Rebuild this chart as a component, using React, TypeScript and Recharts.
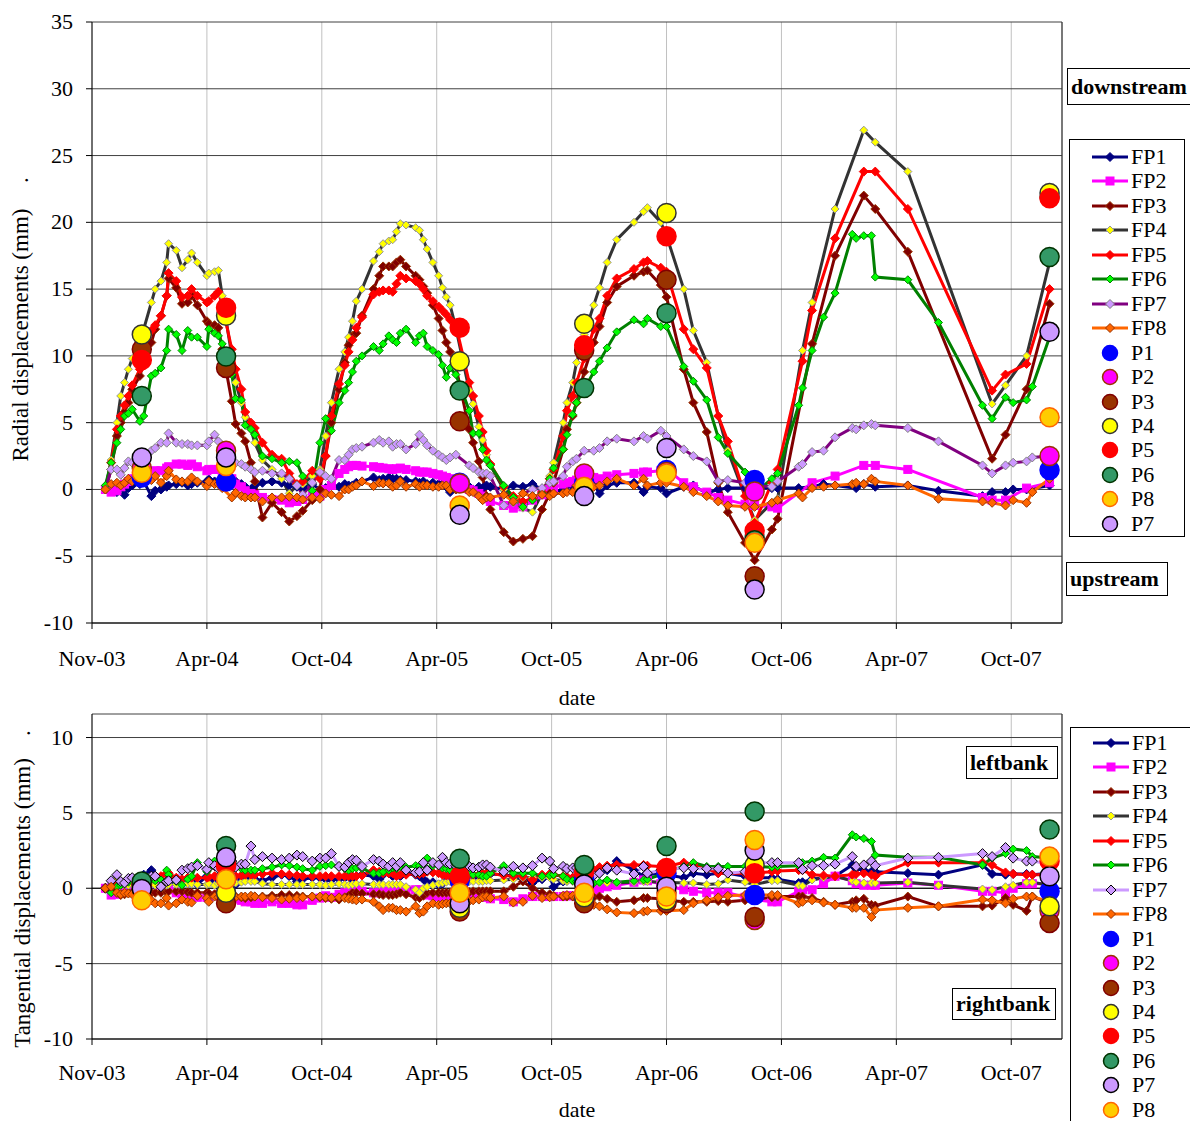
import React from 'react';
import { ComposedChart, Line, Scatter, XAxis, YAxis, CartesianGrid, ReferenceLine } from 'recharts';

const FONT = '"Liberation Serif", "Times New Roman", serif';

// time axis: 0 = Nov-03 tick, one tick every 6 units (Excel date axis)
const X_TICKS = [0, 6, 12, 18, 24, 30, 36, 42, 48];
const X_LABELS = ['Nov-03', 'Apr-04', 'Oct-04', 'Apr-05', 'Oct-05', 'Apr-06', 'Oct-06', 'Apr-07', 'Oct-07'];
const X_MAX = 50.65;

// reading dates of the FP pendulums
const DATES = [
  0.7, 1.0, 1.3, 1.5, 1.7, 1.9, 2.1, 2.5, 2.7, 3.1, 3.3, 3.6, 3.9, 4.0, 4.4, 4.7, 5.0, 5.2, 5.5, 6.0,
  6.1, 6.4, 6.6, 6.8, 7.3, 7.5, 7.8, 8.0, 8.3, 8.5, 8.9, 9.4, 9.9, 10.3, 10.7, 11.0, 11.5,
  11.9, 12.2, 12.5, 12.9, 13.2, 13.4, 13.6, 13.8, 14.1, 14.7, 15.0, 15.2, 15.5, 15.7, 15.9, 16.1, 16.4, 16.9, 17.1, 17.3,
  17.5, 17.8, 18.1, 18.3, 18.5, 18.7, 19.0, 19.7, 19.9, 20.2, 20.4, 20.6, 20.8, 21.5, 22.0, 22.5, 23.0, 23.5, 23.9,
  24.1, 24.6, 24.8, 25.1, 25.3, 25.7, 26.2, 26.5, 26.9, 27.4, 28.3, 28.8, 29.0, 29.7, 30.0, 30.9, 31.4, 32.1, 32.7, 33.2,
  34.1, 34.6, 35.5, 35.8,
  36.9, 37.1, 37.6, 38.2, 38.8, 39.7, 39.9, 40.3, 40.7, 40.9, 42.6, 44.2, 46.5, 47.0, 47.7, 48.1, 48.8, 49.1, 50.0,
];

// dates of the P (plumb line) readings
const P_DATES = [2.6, 7.0, 19.2, 25.7, 30.0, 34.6, 50.0];

// ---- radial displacements (mm) ----
const R_FP1 = [
  0, 0.1, -0.2, 0.2, -0.4, 0.1, 0.3, 0.4, 0.6, -0.5, -0.1, 0.0, 0.2, 0.3, 0.4, 0.5, 0.3, 0.4, 0.5, 0.6,
  0.75, 0.6, 0.5, 0.3, 0.4, 0.6, 0.4, 0.2, 0.0, 0.3, 0.5, 0.6, 0.5, 0.3, 0.2, 0.1, 0.4,
  0.0, 0.1, 0.3, 0.2, 0.4, 0.3, 0.3, 0.5, 0.6, 0.9, 0.7, 0.8, 0.9, 0.8, 0.8, 0.7, 0.7, 0.6, 0.5, 0.6,
  0.4, 0.5, 0.4, 0.4, 0.2, -0.2, 0.0, 0.2, 0.0, 0.2, 0.1, 0.3, 0.2, 0.0, 0.3, 0.2, 0.4, 0.0, -0.3,
  -0.3, 0.0, 0.3, 0.2, 0.4, 0.6, 0.4, -0.3, 0.3, 0.5, 0.5, -0.2, 0.2, 0.1, -0.3, 0.2, 0.3, -0.3, 0.0, 0.1,
  0.1, 0.1, 0.1, 0.1,
  0.1, null, 0.2, 0.4, 0.3, null, 0.1, 0.4, null, 0.2, 0.3, -0.1, -0.5, -0.2, -0.2, 0.0, 0.0, null, 0.3,
];
const R_FP2 = [
  0, -0.2, -0.1, 0.2, 0.4, 0.6, 0.8, 1.0, 1.1, 1.3, 1.4, 1.4, 1.6, 1.7, 1.9, 1.9, 1.8, 1.9, 1.7, 1.4,
  1.5, 1.5, 1.5, 1.3, 0.8, 0.4, 0.2, -0.1, -0.3, -0.4, -0.6, -0.75, -0.8, -1.0, -0.9, -0.75, -0.5,
  -0.5, 0.0, 0.3, 1.2, 1.5, 1.7, 1.8, 1.8, 1.75, 1.7, 1.65, 1.6, 1.55, 1.5, 1.55, 1.6, 1.5, 1.4, 1.3, 1.3,
  1.3, 1.2, 1.1, 1.0, 0.9, 0.8, 0.6, 0.0, -0.1, -0.3, -0.5, -0.7, -0.9, -1.2, -1.4, -1.3, -0.8, -0.4, 0.0,
  0.1, 0.4, 0.5, 0.6, 0.7, 1.0, 0.9, 0.8, 1.0, 1.1, 1.2, 1.3, 1.3, 1.4, 1.5, 0.5, 0.2, -0.2, -0.6, -0.8,
  -1.1, -1.2, -1.3, -1.4,
  null, null, 0.5, null, 1.0, null, null, 1.8, null, 1.8, 1.5, null, -0.6, -0.8, -0.8, null, 0.1, null, 0.5,
];
const R_FP3 = [
  0, 1.5, 4.0, 5.0, 5.8, 6.5, 7.5, 8.5, 9.5, 11.0, 12.0, 13.0, 14.5, 15.8, 15.1, 13.9, 14.0, 14.5, 13.8, 12.6,
  12.4, 12.3, 12.1, 10.5, 6.6, 4.9, 4.2, 3.6, 2.0, 0.6, -2.1, -1.0, -1.7, -2.4, -2.0, -1.6, -0.8,
  0.0, 2.5, 5.0, 7.5, 9.5, 10.8, 11.5, 11.7, 13.0, 15.0, 16.0, 16.7, 16.7, 16.7, 17.0, 17.2, 16.7, 16.0, 15.7, 15.2,
  14.7, 13.8, 12.8, 11.9, 11.0, 10.3, 9.2, 4.5, 3.5, 2.1, 0.9, -0.5, -1.5, -3.2, -3.9, -3.7, -3.5, -1.5, -0.3,
  0.5, 3.0, 4.5, 5.5, 6.5, 8.8, 11.0, 12.2, 14.0, 15.2, 16.0, 16.3, 16.4, 15.3, 14.4, 9.0, 6.5, 4.3, 0.5, -1.7,
  -4.0, -5.3, -3.0, -2.2,
  null, null, 10.9, null, 17.5, null, null, 22.0, null, 21.0, 17.8, null, null, 2.3, 4.1, null, 7.5, null, 13.9,
];
const R_FP4 = [
  0, 2.2, 5.0, 7.0, 8.0, 9.0, 9.8, 11.0, 12.0, 14.0, 15.0, 15.6, 17.0, 18.4, 17.9, 16.6, 17.2, 17.7, 17.0, 16.0,
  16.2, 16.3, 16.4, 14.5, 10.0, 8.0, 6.5, 5.4, 4.5, 3.5, 2.2, 1.5, 0.8, -0.3, 0.3, 0.4, 1.0,
  1.5, 4.0, 6.5, 9.0, 10.3, 11.4, 12.6, 14.1, 15.0, 17.1, 17.8, 18.4, 18.6, 18.7, 19.3, 19.9, 19.8, 19.6, 19.4, 18.7,
  18.0, 17.0, 16.0, 15.1, 14.4, 13.8, 12.1, 7.4, 6.4, 4.7, 3.7, 2.6, 1.8, 0.0, -1.0, -1.4, -1.7, -0.3, 1.0,
  2.0, 5.0, 6.5, 8.0, 9.5, 11.6, 13.8, 15.1, 17.0, 18.7, 20.0, 20.8, 21.1, 20.0, 19.0, 15.0, 11.9, 9.5, 5.5, 2.9,
  -0.5, -2.3, -1.0, -0.7,
  null, 10.4, 14.0, null, 21.0, null, null, 26.9, null, 26.0, 23.8, null, null, 6.4, 7.8, null, 10.0, null, 17.0,
];
const R_FP5 = [
  0, 2.0, 4.5, 5.5, 6.3, 7.0, 7.8, 9.0, 10.0, 11.9, 12.3, 13.0, 14.5, 16.2, 15.6, 14.4, 14.5, 15.0, 14.5, 14.0,
  14.1, 14.5, 14.8, 13.8, 10.5, 9.0, 7.5, 5.8, 5.0, 4.6, 3.5, 2.6, 2.3, 1.2, 0.4, 0.6, 1.4,
  0.8, 2.5, 5.5, 7.9, 9.3, 10.3, 11.2, 12.1, 12.9, 14.6, 14.8, 14.9, 14.9, 14.8, 15.4, 16.0, 15.8, 15.6, 15.4, 15.0,
  14.5, 14.1, 13.7, 13.4, 13.1, 12.7, 12.3, 8.0, 7.0, 5.5, 4.3, 2.9, 1.9, 0.2, -0.5, -0.9, -0.7, -0.2, 0.8,
  1.5, 4.0, 5.9, 7.0, 8.0, 9.8, 12.0, 12.8, 14.5, 15.8, 16.5, 17.0, 17.1, 16.6, 16.3, 12.0, 10.5, 9.1, 5.5, 3.6,
  -0.5, -2.5, 0.5, 1.5,
  null, 9.6, 13.4, null, 18.8, null, null, 23.8, null, 23.8, 21.0, null, null, 7.4, 8.6, null, 9.4, null, 15.0,
];
const R_FP6 = [
  0.3, 2.0, 3.5, 4.5, 5.5, 5.7, 6.0, 5.1, 5.5, 8.5, 8.7, 9.1, 10.4, 12.0, 11.6, 10.4, 11.9, 11.4, 11.4, 10.7,
  12.0, 11.7, 11.5, 10.9, 8.6, 6.8, 6.7, 4.8, 4.5, 4.1, 2.5, 2.3, 2.0, 2.1, 2.0, 1.0, -0.1,
  3.5, 5.3, 4.4, 6.5, 7.4, 8.0, 8.8, 9.6, 10.0, 10.7, 10.4, 10.9, 11.5, 11.2, 11.0, 11.7, 12.0, 11.0, 11.5, 11.7,
  10.7, 10.4, 10.1, 9.3, 8.4, 9.1, 8.6, 5.9, 4.2, 4.2, 3.0, 2.2, 1.8, 0.3, -0.6, -1.3, -0.8, -0.3, 0.8,
  1.6, 3.0, 4.1, 5.6, 6.5, 7.5, 8.8, 9.6, 10.6, 11.8, 12.7, 12.4, 12.8, 12.2, 12.2, 9.2, 8.1, 6.7, 3.9, 2.7,
  1.3, -0.3, 0.8, 1.2,
  6.3, 7.6, 10.4, 12.9, 14.7, 19.1, 18.8, 19.0, 19.0, 15.9, 15.7, 12.5, 6.3, 5.3, 6.9, 6.5, 6.7, 7.7, 11.4,
];
const R_FP7 = [
  0, 1.5, 1.5, 1.1, 1.6, 2.1, 2.0, 2.2, 2.5, 2.9, 3.1, 3.5, 3.5, 4.2, 3.5, 3.4, 3.4, 3.3, 3.3, 3.3,
  3.6, 4.1, 3.6, 2.8, 2.2, 2.0, 1.9, 1.7, 1.5, 1.3, 1.4, 1.2, 1.2, 0.8, 0.3, -0.4, 0.5,
  1.3, 1.0, 0.8, 2.2, 2.2, 2.6, 3.0, 3.1, 3.2, 3.5, 3.7, 3.5, 3.6, 3.2, 3.4, 3.4, 3.0, 3.4, 4.1, 3.7,
  3.3, 2.9, 2.6, 2.4, 2.2, 2.4, 2.6, 1.8, 1.6, 1.3, 1.2, 1.2, 1.0, -1.2, -0.9, -0.3, 0.0, 0.1, 0.5,
  0.6, 1.0, 1.7, 2.1, 2.3, 2.9, 2.9, 3.1, 3.6, 3.8, 3.6, 4.0, 3.8, 4.4, 4.0, 3.0, 2.5, 2.1, 0.6, 0.7,
  0.5, 0.3, 0.2, 0.6,
  1.7, 1.9, 2.8, 2.9, 3.9, 4.6, 4.5, 4.8, 4.9, 4.8, 4.6, 3.6, 1.8, 1.2, 1.8, 2.0, 2.1, 2.4, 2.5,
];
const R_FP8 = [
  0, 0.4, 0.5, 0.3, 0.5, 0.8, 0.6, 0.7, 0.6, 0.7, 1.0, 0.5, 1.0, 1.4, 0.75, 0.6, 0.6, 0.9, 0.6, 0.25,
  0.6, 0.4, 0.4, 0.1, -0.6, -0.25, -0.5, -0.6, -0.6, -0.6, -0.9, -0.6, -0.6, -0.55, -0.6, -0.75, -0.6,
  -0.7, -0.3, -0.4, -0.5, 0.0, 0.0, 0.2, 0.3, 0.6, 0.25, 0.5, 0.45, 0.45, 0.2, 0.3, 0.6, 0.2, 0.4, 0.2, 0.3,
  0.3, 0.2, 0.2, 0.3, 0.3, 0.0, 0.0, -0.2, -0.2, -0.5, -0.8, -0.6, -0.6, -0.4, -0.9, -0.3, -0.5, -0.4, -0.5,
  -0.3, -0.3, -0.2, -0.2, 0.3, 0.1, 0.2, 0.3, 0.6, 0.8, 0.3, 0.8, 0.3, 0.5, 0.5, 0.2, -0.2, -0.5, -0.9, -1.2,
  -1.3, -1.3, -1.0, -0.8,
  -0.3, -0.6, 0.1, 0.2, 0.3, 0.4, 0.5, 0.4, 0.8, 0.6, 0.3, -0.7, -0.9, -1.0, -1.2, -0.8, -1.0, -0.2, 0.8,
];

const R_P1 = [0.9, 0.6, 0.5, 0.5, 1.45, 0.7, 1.45];
const R_P2 = [1.6, 2.9, 0.45, 1.2, 1.3, -0.15, 2.5];
const R_P3 = [10.5, 9.1, 5.1, 10.4, 15.7, -6.5, 21.9];
const R_P4 = [11.6, 13.0, 9.6, 12.4, 20.7, -3.6, 22.2];
const R_P5 = [9.7, 13.6, 12.1, 10.8, 18.95, -3.1, 21.8];
const R_P6 = [7.0, 9.95, 7.4, 7.6, 13.2, -3.8, 17.4];
const R_P7 = [2.4, 2.4, -1.9, -0.5, 3.1, -7.5, 11.8];
const R_P8 = [1.25, 1.75, -1.2, 0.2, 1.2, -4.0, 5.4];

// ---- tangential displacements (mm) ----
const T_FP1 = [
  0, -0.1, 0.1, 0.1, 0.2, 0.1, 0.3, 0.6, 0.9, 1.2, 0.2, 0.5, 0.4, 0.3, 0.4, 0.3, 0.35, 0.5, 0.25, 0.8,
  0.6, 0.5, 0.4, 0.3, 0.25, 0.25, 0.8, 0.6, 0.7, 0.6, 0.5, 0.7, 0.9, 0.8, 0.45, 0.6, 0.7,
  0.7, 0.6, 0.55, 0.6, 0.7, 0.8, 0.5, 0.8, 0.9, 0.8, 0.6, 0.9, 1.0, 0.8, 0.9, 0.8, 1.0, 0.9, 0.8, 0.6,
  0.4, 0.4, 0.25, 0.3, 0.5, 0.8, 0.6, 0.8, 0.7, 0.8, 0.9, 0.8, 0.95, 0.9, 0.8, 0.7, 0.35, 0.6, 0.8,
  0.1, 0.45, 0.5, 0.7, 0.6, 0.7, 0.9, 1.0, 1.2, 1.8, 1.2, 0.8, 0.9, 1.0, 0.9, 0.7, 1.0, 0.9, 1.0, 1.0,
  0.8, 0.7, 0.7, 0.6,
  0.35, 0.4, 0.6, 0.7, 0.8, 1.55, 1.3, 1.2, 1.1, 1.1, 1.0, 0.9, 1.55, 0.95, 0.9, 0.95, 0.95, 0.9, 1.0,
];
const T_FP2 = [
  0, -0.45, -0.4, -0.3, -0.2, 0.0, 0.1, 0.2, 0.3, 0.4, 0.3, 0.2, 0.0, -0.1, -0.3, -0.4, -0.5, -0.5, -0.6, -0.6,
  -0.6, -0.5, -0.4, -0.5, -0.6, -0.7, -0.8, -0.9, -0.9, -1.0, -1.0, -0.9, -1.0, -1.0, -1.1, -1.1, -0.8,
  -0.65, -0.5, -0.6, -0.4, -0.3, -0.2, -0.1, -0.1, -0.2, -0.3, -0.3, -0.2, -0.2, -0.1, -0.1, 0.0, -0.1, -0.1, -0.1, -0.3,
  -0.45, -0.5, -0.55, -0.55, -0.6, -0.65, -0.6, -0.5, -0.45, -0.45, -0.5, -0.6, -0.7, -0.75, -0.9, -0.7, -0.55, -0.55, -0.55,
  -0.55, -0.55, -0.5, -0.5, -0.55, -0.4, -0.2, 0.0, 0.1, 0.2, 0.4, 0.55, 0.5, 0.3, 0.2, -0.1, -0.2, -0.3, -0.3, -0.3,
  -0.6, -0.75, -0.9, -0.9,
  -0.2, -0.1, -0.1, 0.3, 0.8, 0.5, 0.3, 0.2, 0.2, 0.2, 0.35, 0.2, -0.2, -0.2, -0.3, 0.0, 0.3, 0.3, 0.3,
];
const T_FP3 = [
  0, -0.1, -0.3, -0.45, -0.4, -0.3, -0.3, -0.2, -0.3, -0.3, -0.3, -0.3, -0.25, -0.2, -0.2, -0.2, -0.25, -0.3, -0.3, -0.3,
  -0.35, -0.4, -0.45, -0.45, -0.5, -0.55, -0.6, -0.65, -0.6, -0.55, -0.55, -0.5, -0.45, -0.45, -0.5, -0.55, -0.55,
  -0.6, -0.65, -0.7, -0.75, -0.6, -0.5, -0.3, -0.3, -0.35, -0.4, -0.4, -0.45, -0.45, -0.45, -0.4, -0.3, -0.4, -0.6, -0.65, -0.5,
  -0.3, -0.3, -0.3, -0.3, -0.3, -0.3, -0.3, -0.25, -0.2, -0.2, -0.2, -0.2, -0.2, -0.2, 0.1, 0.45, 0.0, -0.3, -0.4,
  -0.5, -0.55, -0.55, -0.55, -0.6, -0.65, -0.6, -0.55, -0.7, -0.9, -0.8, -0.65, -0.65, -0.7, -0.8, -0.9, -0.9, -0.9, -0.85, -0.9,
  -0.8, -0.75, -0.6, -0.55,
  -0.55, -0.55, -0.65, -0.9, -1.1, -0.9, -0.8, -0.7, -1.1, -1.15, -0.55, -1.2, -1.2, -1.15, -0.65, -1.1, -1.5, -0.55, -1.0,
];
const T_FP4 = [
  0, 0.1, 0.6, 0.3, 0.2, 0.2, 0.25, 0.3, 0.3, 0.25, 0.2, 0.2, 0.2, 0.25, 0.25, 0.3, 0.3, 0.3, 0.25, 0.25,
  0.3, 0.2, 0.3, 0.3, 0.3, 0.35, 0.4, 0.45, 0.45, 0.45, 0.3, 0.25, 0.25, 0.25, 0.25, 0.25, 0.25,
  0.25, 0.2, 0.25, 0.3, 0.25, 0.2, 0.25, 0.3, 0.3, 0.25, 0.25, 0.25, 0.25, 0.25, 0.25, 0.25, 0.1, -0.1, -0.3, 0.0,
  0.1, 0.2, 0.3, 0.35, 0.4, 0.45, 0.45, 0.45, 0.45, 0.45, 0.45, 0.5, 0.5, 0.55, 0.6, 0.7, 0.7, 0.7, 0.7,
  0.6, 0.5, 0.45, 0.45, 0.4, 0.4, 0.35, 0.35, 0.35, 0.35, 0.4, 0.45, 0.45, 0.4, 0.4, 0.35, 0.35, 0.25, 0.3, 0.55,
  0.4, 0.25, 0.5, 0.5,
  0.2, 0.15, 0.55, 0.7, 0.8, 0.5, 0.4, 0.35, 0.35, 0.35, 0.4, 0.2, -0.05, -0.1, 0.1, 0.2, 0.4, 0.4, 0.2,
];
const T_FP5 = [
  0, 0.1, 0.2, 0.3, 0.4, 0.5, 0.5, 0.5, 0.6, 0.7, 0.75, 0.8, 1.0, 1.0, 0.7, 0.6, 0.7, 0.7, 0.7, 0.7,
  0.75, 0.8, 0.8, 0.8, 0.8, 0.8, 0.85, 0.9, 0.9, 0.9, 0.95, 1.0, 0.95, 0.9, 0.85, 0.8, 0.8,
  0.8, 0.8, 0.8, 0.8, 0.8, 0.8, 0.8, 0.8, 0.85, 1.2, 1.1, 1.0, 1.0, 1.0, 0.8, 0.9, 0.9, 0.95, 0.95, 1.0,
  1.1, 1.05, 1.0, 0.9, 0.85, 0.8, 0.8, 0.9, 0.9, 0.9, 0.95, 1.0, 1.0, 0.85, 0.8, 0.8, 0.55, 0.9, 0.95,
  0.9, 0.8, 0.75, 0.7, 0.8, 1.0, 1.2, 1.4, 1.5, 1.55, 1.55, 1.55, 1.5, 1.45, 1.45, 1.7, 1.6, 1.3, 1.0, 1.0,
  1.0, 1.0, 1.1, 1.15,
  1.2, 1.2, 0.9, 0.85, 0.8, 0.9, 0.95, 1.0, 0.9, 0.8, 1.7, 1.7, 1.7, 1.55, 1.05, 0.95, 0.9, 0.9, 0.9,
];
const T_FP6 = [
  0, -0.3, 0.1, 0.2, 0.3, 0.4, 0.5, 0.6, 0.7, 0.6, 0.5, 0.55, 1.2, 0.9, 0.45, 0.2, 0.6, 0.8, 1.7, 1.1,
  1.3, 1.8, 1.4, 1.1, 1.2, 1.45, 1.3, 1.2, 1.2, 1.2, 1.3, 1.4, 1.55, 1.5, 1.4, 1.3, 1.2,
  1.45, 1.5, 1.55, 1.4, 1.3, 1.2, 1.3, 1.35, 1.3, 1.0, 1.0, 1.1, 1.2, 1.35, 1.3, 1.45, 1.4, 1.5, 1.5, 1.6,
  2.0, 1.5, 1.5, 1.35, 1.3, 1.2, 1.0, 1.0, 0.9, 0.9, 0.8, 0.8, 1.0, 1.5, 1.0, 1.0, 1.0, 0.8, 0.85,
  0.9, 0.8, 0.6, 0.5, 0.45, 0.4, 0.35, 0.4, 0.55, 0.4, 0.5, 0.55, 0.6, 0.9, 1.1, 1.45, 1.7, 1.45, 1.45, 1.45,
  1.45, 1.45, 1.4, 1.45,
  1.5, 1.7, 1.8, 2.05, 2.0, 3.55, 3.4, 3.3, 3.1, 2.2, 2.05, 2.05, 1.55, 2.0, 2.3, 2.6, 2.5, 2.1, 2.0,
];
const T_FP7 = [
  0, 0.5, 0.9, 0.45, 0.35, 0.65, 0.7, 0.6, 0.5, 0.8, 0.8, 0.1, 0.45, 0.5, 0.55, 1.2, 1.3, 1.4, 1.5, 1.25,
  1.7, 1.5, 1.3, 1.5, 1.8, 1.4, 1.6, 1.6, 2.8, 1.9, 2.1, 2.0, 1.9, 2.0, 2.2, 2.1, 1.8,
  2.0, 2.0, 2.3, 1.45, 1.4, 1.7, 1.9, 1.85, 1.45, 1.9, 1.8, 1.6, 1.45, 1.7, 1.45, 1.7, 1.2, 1.05, 1.1, 1.7,
  1.2, 1.7, 1.55, 2.05, 1.7, 1.6, 1.5, 1.45, 1.35, 1.4, 1.55, 1.55, 1.4, 1.1, 1.45, 1.35, 1.5, 2.0, 1.8,
  1.3, 1.45, 1.3, 1.35, 1.35, 1.2, 0.85, 1.0, 1.35, 1.2, 0.95, 1.45, 1.0, 1.2, 1.3, 1.35, 1.3, 1.3, 1.3, 1.0,
  1.1, 1.7, 1.7, 1.7,
  1.7, 1.25, 1.5, 1.5, 1.6, 2.1, 1.45, 1.55, 1.8, 1.5, 2.0, 2.05, 2.3, 2.1, 2.7, 2.0, 1.8, 1.8, 1.6,
];
const T_FP8 = [
  0, 0.1, -0.3, -0.4, -0.3, -0.35, -0.4, -0.5, -0.6, -0.8, -1.0, -1.0, -0.65, -1.15, -1.0, -0.75, -0.9, -0.95, -0.5, -0.65,
  -0.9, -0.55, -0.6, -0.7, -0.65, -0.6, -0.55, -0.55, -0.5, -0.55, -0.6, -0.65, -0.75, -0.7, -0.65, -0.6, -0.55,
  -0.55, -0.6, -0.65, -0.6, -0.65, -0.7, -0.75, -0.8, -0.75, -0.9, -1.2, -1.45, -1.3, -1.3, -1.45, -1.45, -1.55, -1.2, -1.65, -1.55,
  -1.2, -1.0, -1.1, -1.05, -1.0, -1.0, -1.0, -0.85, -0.8, -0.75, -0.6, -0.55, -0.65, -0.55, -0.95, -0.9, -0.5, -0.65, -0.6,
  -0.55, -0.5, -0.45, -0.5, -0.6, -0.8, -1.1, -1.2, -1.4, -1.6, -1.65, -1.55, -1.5, -1.5, -1.5, -1.45, -1.0, -0.8, -0.6, -0.5,
  -0.45, -0.45, -0.45, -0.45,
  -1.0, -0.9, -0.8, -0.95, -1.1, -1.3, -1.3, -1.3, -1.9, -1.45, -1.3, -1.2, -0.75, -0.8, -1.0, -0.7, -0.55, -0.55, -0.9,
];

const T_P1 = [0.2, 0.6, 0.5, 0.6, 1.0, -0.45, -0.2];
const T_P2 = [0.3, 1.5, -1.0, -0.5, -0.3, -2.1, -1.5];
const T_P3 = [0.1, -1.0, -1.55, -1.0, -1.0, -1.9, -2.3];
const T_P4 = [0.2, -0.3, -1.3, -0.6, -0.8, 1.55, -1.2];
const T_P5 = [0.3, 1.55, 0.8, 1.1, 1.35, 1.0, 1.8];
const T_P6 = [0.45, 2.8, 1.95, 1.55, 2.8, 5.1, 3.9];
const T_P7 = [-0.05, 2.05, -1.0, 0.25, 0.1, 2.5, 0.8];
const T_P8 = [-0.8, 0.6, -0.3, -0.3, -0.55, 3.2, 2.1];

type LineStyle = { name: string; stroke: string; fill: string; mStroke: string; shape: 'diamond' | 'square'; r: number };
type DotStyle = { name: string; fill: string; stroke: string };

const FP_TOP: LineStyle[] = [
  { name: 'FP1', stroke: '#000080', fill: '#000080', mStroke: '#000080', shape: 'diamond', r: 4.5 },
  { name: 'FP2', stroke: '#FF00FF', fill: '#FF00FF', mStroke: '#FF00FF', shape: 'square', r: 4 },
  { name: 'FP3', stroke: '#800000', fill: '#800000', mStroke: '#993300', shape: 'diamond', r: 4.5 },
  { name: 'FP4', stroke: '#333333', fill: '#FFFF00', mStroke: '#969696', shape: 'diamond', r: 4 },
  { name: 'FP5', stroke: '#FF0000', fill: '#FF0000', mStroke: '#FF0000', shape: 'diamond', r: 4.5 },
  { name: 'FP6', stroke: '#008000', fill: '#00FF00', mStroke: '#008000', shape: 'diamond', r: 4 },
  { name: 'FP7', stroke: '#800080', fill: '#CC99FF', mStroke: '#808080', shape: 'diamond', r: 4.5 },
  { name: 'FP8', stroke: '#FF6600', fill: '#FF6600', mStroke: '#993300', shape: 'diamond', r: 4.5 },
];
const FP_BOTTOM: LineStyle[] = FP_TOP.map((s) =>
  s.name === 'FP7' ? { ...s, stroke: '#CC99FF', mStroke: '#000000', r: 5 } : s,
);

const P_STYLE: Record<string, DotStyle> = {
  P1: { name: 'P1', fill: '#0000FF', stroke: '#0000FF' },
  P2: { name: 'P2', fill: '#FF00FF', stroke: '#993300' },
  P3: { name: 'P3', fill: '#993300', stroke: '#800000' },
  P4: { name: 'P4', fill: '#FFFF00', stroke: '#333333' },
  P5: { name: 'P5', fill: '#FF0000', stroke: '#FF0000' },
  P6: { name: 'P6', fill: '#339966', stroke: '#003300' },
  P7: { name: 'P7', fill: '#CC99FF', stroke: '#000000' },
  P8: { name: 'P8', fill: '#FFCC00', stroke: '#FF6600' },
};

const R_LINES = [R_FP1, R_FP2, R_FP3, R_FP4, R_FP5, R_FP6, R_FP7, R_FP8];
const T_LINES = [T_FP1, T_FP2, T_FP3, T_FP4, T_FP5, T_FP6, T_FP7, T_FP8];
const R_POINTS: [string, number[]][] = [
  ['P1', R_P1], ['P2', R_P2], ['P3', R_P3], ['P4', R_P4], ['P5', R_P5], ['P6', R_P6], ['P8', R_P8], ['P7', R_P7],
];
const T_POINTS: [string, number[]][] = [
  ['P1', T_P1], ['P2', T_P2], ['P3', T_P3], ['P4', T_P4], ['P5', T_P5], ['P6', T_P6], ['P7', T_P7], ['P8', T_P8],
];

const toLine = (vals: (number | null)[]) =>
  DATES.map((t, i) => ({ t, v: vals[i] })).filter((p) => p.v !== null && p.v !== undefined);
const toPoints = (vals: number[]) => P_DATES.map((t, i) => ({ t, v: vals[i] }));

const textStyle = { fontFamily: FONT };

function marker(shape: string, cx: number, cy: number, r: number, fill: string, stroke: string, key?: any) {
  if (shape === 'square') {
    return <rect key={key} x={cx - r} y={cy - r} width={2 * r} height={2 * r} fill={fill} stroke={stroke} strokeWidth={1} />;
  }
  return (
    <path key={key} d={`M${cx},${cy - r}L${cx + r},${cy}L${cx},${cy + r}L${cx - r},${cy}Z`} fill={fill} stroke={stroke} strokeWidth={1} />
  );
}

const makeDot = (s: LineStyle) => (props: any) => {
  const { cx, cy, index } = props;
  if (cx == null || cy == null) return <g key={`${s.name}-${index}`} />;
  return marker(s.shape, cx, cy, s.r, s.fill, s.mStroke, `${s.name}-${index}`);
};

const makeCircle = (p: DotStyle, r: number) => (props: any) => (
  <circle cx={props.cx} cy={props.cy} r={r} fill={p.fill} stroke={p.stroke} strokeWidth={1.5} />
);

const XTick = (base: number) => (props: any) => {
  const { x, payload } = props;
  const label = X_LABELS[X_TICKS.indexOf(payload.value)];
  return (
    <text x={x} y={base} textAnchor="middle" style={textStyle} fontSize={22} fill="#000">
      {label}
    </text>
  );
};

const YTick = (props: any) => {
  const { y, payload } = props;
  return (
    <text x={73} y={y + 7} textAnchor="end" style={textStyle} fontSize={22} fill="#000">
      {payload.value}
    </text>
  );
};

function Panel(props: {
  height: number;
  top: number;
  xHeight: number;
  yDomain: [number, number];
  yTicks: number[];
  tickBase: number;
  styles: LineStyle[];
  lines: (number | null)[][];
  points: [string, number[]][];
  zeroLine?: boolean;
}) {
  const { height, top, xHeight, yDomain, yTicks, tickBase, styles, lines, points, zeroLine } = props;
  return (
    <ComposedChart width={1190} height={height} margin={{ top, right: 128, bottom: 0, left: 0 }} style={textStyle}>
      <CartesianGrid horizontal={false} stroke="#C0C0C0" strokeWidth={1} />
      <CartesianGrid vertical={false} stroke="#404040" strokeWidth={1} />
      <XAxis
        dataKey="t"
        type="number"
        domain={[0, X_MAX]}
        ticks={X_TICKS}
        allowDataOverflow
        height={xHeight}
        tickSize={6}
        axisLine={{ stroke: '#000' }}
        tickLine={{ stroke: '#000' }}
        tick={XTick(tickBase)}
      />
      <YAxis
        dataKey="v"
        type="number"
        domain={yDomain}
        ticks={yTicks}
        allowDataOverflow
        width={92}
        tickSize={6}
        axisLine={{ stroke: '#000' }}
        tickLine={{ stroke: '#000' }}
        tick={YTick}
      />
      {zeroLine && <ReferenceLine y={0} stroke="#000" strokeWidth={1.2} />}
      <ReferenceLine x={X_MAX} stroke="#333" strokeWidth={1.2} />
      {styles.map((s, i) => (
        <Line
          key={s.name}
          data={toLine(lines[i])}
          dataKey="v"
          stroke={s.stroke}
          strokeWidth={3}
          dot={makeDot(s)}
          activeDot={false}
          isAnimationActive={false}
          legendType="none"
        />
      ))}
      {points.map(([name, vals]) => (
        <Scatter
          key={name}
          data={toPoints(vals)}
          dataKey="v"
          shape={makeCircle(P_STYLE[name], 9.5)}
          isAnimationActive={false}
          legendType="none"
        />
      ))}
    </ComposedChart>
  );
}

function LegendBox(props: { left: number; top: number; width: number; height: number; firstY: number; lineStyles: LineStyle[]; dots: string[] }) {
  const { left, top, width, height, firstY, lineStyles, dots } = props;
  const rows: React.ReactNode[] = [];
  lineStyles.forEach((s, i) => {
    rows.push(
      <div key={s.name} style={{ position: 'absolute', left: 0, top: firstY - top + i * 24.45 - 13, height: 24, width: '100%' }}>
        <svg width={40} height={24} style={{ position: 'absolute', left: 20, top: 0 }}>
          <line x1={2} x2={38} y1={12} y2={12} stroke={s.stroke} strokeWidth={3} />
          {marker(s.shape, 20, 12, s.r, s.fill, s.mStroke)}
        </svg>
        <span style={{ position: 'absolute', left: 61, top: 0, lineHeight: '24px', fontSize: 22 }}>{s.name}</span>
      </div>,
    );
  });
  dots.forEach((n, j) => {
    const p = P_STYLE[n];
    const i = lineStyles.length + j;
    rows.push(
      <div key={n} style={{ position: 'absolute', left: 0, top: firstY - top + i * 24.45 - 13, height: 24, width: '100%' }}>
        <svg width={40} height={24} style={{ position: 'absolute', left: 20, top: 0 }}>
          <circle cx={20} cy={12} r={7.5} fill={p.fill} stroke={p.stroke} strokeWidth={1.5} />
        </svg>
        <span style={{ position: 'absolute', left: 61, top: 0, lineHeight: '24px', fontSize: 22 }}>{n}</span>
      </div>,
    );
  });
  return (
    <div style={{ position: 'absolute', left, top, width, height, border: '1px solid #000', background: '#fff', boxSizing: 'border-box' }}>
      {rows}
    </div>
  );
}

function Tag(props: { left: number; top: number; width: number; height: number; text: string }) {
  const { left, top, width, height, text } = props;
  return (
    <div
      style={{
        position: 'absolute', left, top, width, height, border: '1px solid #000', background: '#fff', boxSizing: 'border-box',
        fontWeight: 'bold', fontSize: 22, lineHeight: `${height - 2}px`, paddingLeft: 3, whiteSpace: 'nowrap',
      }}
    >
      {text}
    </div>
  );
}

export default function App() {
  return (
    <div style={{ position: 'absolute', left: 0, top: 0, width: 1190, height: 1121, overflow: 'hidden', background: '#fff', fontFamily: FONT }}>
      <div style={{ position: 'absolute', left: 0, top: 0 }}>
        <Panel
          height={700}
          top={22}
          xHeight={77}
          yDomain={[-10, 35]}
          yTicks={[-10, -5, 0, 5, 10, 15, 20, 25, 30, 35]}
          tickBase={666}
          styles={FP_TOP}
          lines={R_LINES}
          points={R_POINTS}
        />
      </div>
      <div style={{ position: 'absolute', left: 0, top: 690 }}>
        <Panel
          height={431}
          top={24}
          xHeight={82}
          yDomain={[-10, 11.56]}
          yTicks={[-10, -5, 0, 5, 10]}
          tickBase={390}
          styles={FP_BOTTOM}
          lines={T_LINES}
          points={T_POINTS}
          zeroLine
        />
      </div>

      <svg width={1190} height={1121} style={{ position: 'absolute', left: 0, top: 0, pointerEvents: 'none', fontFamily: FONT }}>
        <text transform="translate(28,335) rotate(-90)" textAnchor="middle" fontSize={23}>
          Radial displacements (mm)
        </text>
        <text transform="translate(28,180) rotate(-90)" textAnchor="middle" fontSize={23}>.</text>
        <text transform="translate(30,903) rotate(-90)" textAnchor="middle" fontSize={23}>
          Tangential displacements (mm)
        </text>
        <text transform="translate(30,733) rotate(-90)" textAnchor="middle" fontSize={23}>.</text>
        <text x={577} y={705} textAnchor="middle" fontSize={22}>date</text>
        <text x={577} y={1117} textAnchor="middle" fontSize={22}>date</text>
      </svg>

      <Tag left={1067} top={68} width={130} height={37} text="downstream" />
      <Tag left={1066} top={562} width={102} height={34} text="upstream" />
      <Tag left={966} top={746} width={92} height={33} text="leftbank" />
      <Tag left={952} top={988} width={104} height={32} text="rightbank" />

      <LegendBox left={1069} top={139} width={116} height={398} firstY={157} lineStyles={FP_TOP} dots={['P1', 'P2', 'P3', 'P4', 'P5', 'P6', 'P8', 'P7']} />
      <LegendBox left={1070} top={727} width={130} height={420} firstY={743} lineStyles={FP_BOTTOM} dots={['P1', 'P2', 'P3', 'P4', 'P5', 'P6', 'P7', 'P8']} />
    </div>
  );
}
